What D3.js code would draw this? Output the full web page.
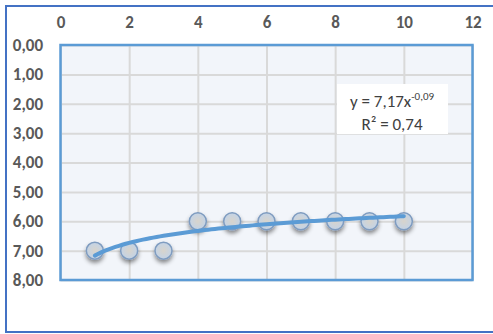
<!DOCTYPE html>
<html>
<head>
<meta charset="utf-8">
<script src="https://cdn.jsdelivr.net/npm/d3@7"></script>
<style>
  body { margin: 0; background: #fff; }
  svg text { font-family: Carlito, "Open Sans", "Liberation Sans", sans-serif; }
</style>
</head>
<body>
<svg width="493" height="334"></svg>
<script>
var xValues = [1, 2, 3, 4, 5, 6, 7, 8, 9, 10];
var yValues = [7, 7, 7, 6, 6, 6, 6, 6, 6, 6];
var xTicks = [0, 2, 4, 6, 8, 10, 12];
var yTicks = [0, 1, 2, 3, 4, 5, 6, 7, 8];
var trendA = 7.17, trendB = -0.09;
var trendLabel = ["y = 7,17x", "-0,09", "R² = 0,74"];

var svg = d3.select("svg");

var plot = {left: 60.5, top: 45, right: 472.5, bottom: 280};

var x = d3.scaleLinear().domain([0, 12]).range([plot.left, plot.right]);
var y = d3.scaleLinear().domain([0, 8]).range([plot.top, plot.bottom]);

var fmt = function(d) { return d3.format(".2f")(d).replace(".", ","); };

// outer frame
svg.append("rect")
    .attr("x", 6).attr("y", 6)
    .attr("width", 500).attr("height", 326)
    .attr("fill", "#fff")
    .attr("stroke", "#4472C4")
    .attr("stroke-width", 2);

var defs = svg.append("defs");
var grad = defs.append("radialGradient").attr("id", "mk");
grad.append("stop").attr("offset", "0%").attr("stop-color", "#d8d4cc");
grad.append("stop").attr("offset", "100%").attr("stop-color", "#c3d3e6");
var sh = defs.append("filter").attr("id", "shadow")
    .attr("x", "-50%").attr("y", "-50%").attr("width", "200%").attr("height", "200%");
sh.append("feDropShadow").attr("dx", 0).attr("dy", 3).attr("stdDeviation", 2)
    .attr("flood-color", "#000").attr("flood-opacity", 0.45);

// plot area
svg.append("rect")
    .attr("x", plot.left).attr("y", plot.top)
    .attr("width", plot.right - plot.left).attr("height", plot.bottom - plot.top)
    .attr("fill", "#F2F5FA");

// grid
svg.append("g")
    .attr("transform", "translate(0," + plot.top + ")")
    .call(d3.axisTop(x).tickValues(xTicks).tickSize(-(plot.bottom - plot.top)).tickFormat(""))
    .call(function(g) { g.select(".domain").remove(); })
    .selectAll("line").attr("stroke", "#D9D9D9").attr("stroke-width", 2);

svg.append("g")
    .attr("transform", "translate(" + plot.left + ",0)")
    .call(d3.axisLeft(y).tickValues(yTicks).tickSize(-(plot.right - plot.left)).tickFormat(""))
    .call(function(g) { g.select(".domain").remove(); })
    .selectAll("line").attr("stroke", "#D9D9D9").attr("stroke-width", 2);

// plot border
svg.append("rect")
    .attr("x", plot.left).attr("y", plot.top)
    .attr("width", plot.right - plot.left).attr("height", plot.bottom - plot.top)
    .attr("fill", "none")
    .attr("stroke", "#5B9BD5")
    .attr("stroke-width", 2.5);

// axis labels
var xa = svg.append("g")
    .attr("transform", "translate(0,28)")
    .call(d3.axisTop(x).tickValues(xTicks).tickSize(0).tickPadding(0));
xa.select(".domain").remove();
xa.selectAll("text")
    .attr("fill", "#595959").attr("font-size", 17).attr("font-weight", "bold")
    .attr("font-family", "Carlito, 'Open Sans', sans-serif");

var ya = svg.append("g")
    .attr("transform", "translate(43,0)")
    .call(d3.axisLeft(y).tickValues(yTicks).tickSize(0).tickPadding(0).tickFormat(fmt));
ya.select(".domain").remove();
ya.selectAll("text")
    .attr("fill", "#595959").attr("font-size", 17).attr("font-weight", "bold")
    .attr("font-family", "Carlito, 'Open Sans', sans-serif");

// markers
var pts = xValues.map(function(v, i) { return {x: v, y: yValues[i]}; });
svg.append("g").selectAll("circle")
    .data(pts)
    .enter().append("circle")
      .attr("cx", function(d) { return x(d.x); })
      .attr("cy", function(d) { return y(d.y); })
      .attr("r", 8.5)
      .attr("fill", "url(#mk)")
      .attr("stroke", "#7f9cc0")
      .attr("stroke-width", 1.5)
      .attr("filter", "url(#shadow)");

// trendline y = a x^b
var trend = d3.range(0, 91).map(function(i) {
  var xv = d3.min(xValues) + i * (d3.max(xValues) - d3.min(xValues)) / 90;
  return {x: xv, y: trendA * Math.pow(xv, trendB)};
});
svg.append("path")
    .datum(trend)
    .attr("fill", "none")
    .attr("stroke", "#5B9BD5")
    .attr("stroke-width", 4)
    .attr("stroke-linecap", "round")
    .attr("d", d3.line().x(function(d) { return x(d.x); }).y(function(d) { return y(d.y); }));

// trend label
svg.append("rect")
    .attr("x", 337).attr("y", 84).attr("width", 111).attr("height", 50)
    .attr("fill", "#fff");
var t1 = svg.append("text")
    .attr("x", 392).attr("y", 107)
    .attr("text-anchor", "middle")
    .attr("fill", "#404040").attr("font-size", 17);
t1.append("tspan").text(trendLabel[0]);
t1.append("tspan").attr("dy", -7).attr("font-size", 11).text(trendLabel[1]);
svg.append("text")
    .attr("x", 392).attr("y", 130)
    .attr("text-anchor", "middle")
    .attr("fill", "#404040").attr("font-size", 17)
    .text(trendLabel[2]);
</script>
</body>
</html>
